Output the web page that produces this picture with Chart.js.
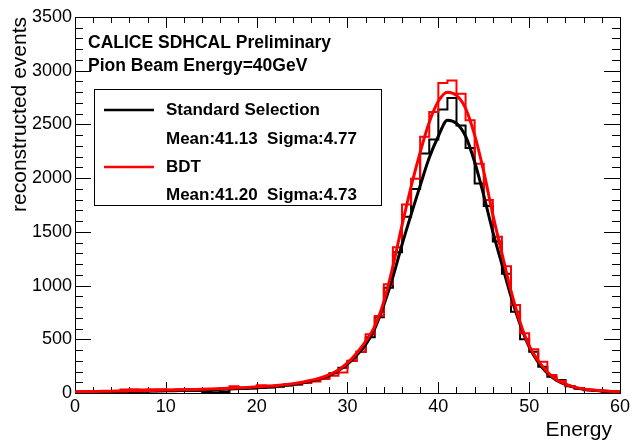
<!DOCTYPE html>
<html>
<head>
<meta charset="utf-8">
<script src="https://cdn.jsdelivr.net/npm/chart.js@4.4.0/dist/chart.umd.min.js"></script>
<style>
html,body{margin:0;padding:0;background:#fff;}
#wrap{width:633px;height:441px;position:relative;}
</style>
</head>
<body>
<div id="wrap"><canvas id="c" width="633" height="441"></canvas></div>
<script>
// ---- data ----
const binLowEdges = [0,1,2,3,4,5,6,7,8,9,10,11,12,13,14,15,16,17,18,19,20,21,22,23,24,25,26,27,28,29,30,31,32,33,34,35,36,37,38,39,40,41,42,43,44,45,46,47,48,49,50,51,52,53,54,55,56,57,58,59];
const binUpperEdge = 60;
const standardCounts = [8,10,9,11,12,14,15,13,16,18,19,20,22,21,10,8,10,45,38,42,48,52,58,70,78,95,112,140,185,235,300,385,520,705,980,1310,1640,1900,2230,2360,2640,2745,2490,2280,1950,1740,1410,1110,757,500,385,245,152,121,62,40,25,18,12,8];
const bdtCounts = [12,12,12,12,12,32,35,33,36,34,30,35,33,36,32,30,34,62,48,55,72,68,72,82,80,92,108,130,160,190,298,385,546,717,1012,1356,1755,1995,2386,2615,2885,2910,2785,2540,2135,1796,1455,1180,819,556,407,292,168,115,65,44,28,20,14,10];
const fitX = [0,1,2,3,4,5,6,7,8,9,10,11,12,13,14,15,16,17,18,19,20,21,22,23,24,25,26,27,28,29,30,31,32,33,34,35,36,37,38,39,40,41,42,43,44,45,46,47,48,49,50,51,52,53,54,55,56,57,58,59,60];
const standardFit = [8,9,10,11,12,13,14,15,17,18,20,22,24,26,28,31,34,37,41,45,49,54,60,69,80,94,112,135,165,210,270,350,450,600,820,1080,1380,1660,1930,2190,2390,2540,2510,2390,2150,1840,1500,1200,900,640,430,285,185,120,80,52,35,25,18,13,10];
const bdtFit = [12,13,14,16,17,19,20,22,23,25,27,29,31,33,35,38,41,44,48,52,57,62,68,76,86,100,118,140,172,215,280,370,480,620,850,1180,1560,1920,2240,2520,2715,2800,2770,2650,2400,2060,1660,1300,950,660,440,300,195,125,82,55,38,28,20,15,12];
const xRange = [0, 60];
const yRange = [0, 3500];
const xMajorStep = 10, xMinorStep = 2;
const yMajorStep = 500, yMinorStep = 100;
const headerLines = ["CALICE SDHCAL Preliminary", "Pion Beam Energy=40GeV"];
const legendLabels = ["Standard Selection", "BDT"];
const legendStats = ["Mean:41.13  Sigma:4.77", "Mean:41.20  Sigma:4.73"];
const seriesColors = ["#000000", "#ff0000"];
const xTitle = "Energy";
const yTitle = "reconstructed events";

// ---- build library data ----
function histPoints(counts){
  const pts = binLowEdges.map((x,i)=>({x:x, y:counts[i]}));
  pts.push({x:binUpperEdge, y:counts[counts.length-1]});
  return pts;
}
function curvePoints(vals){ return fitX.map((x,i)=>({x:x, y:vals[i]})); }

const FONT = "'Liberation Sans', Arial, Helvetica, sans-serif";

const framePlugin = {
  id: 'rootFrame',
  beforeDatasetsDraw(chart){
    const {ctx, chartArea:a, scales:{x, y}} = chart;
    ctx.save();
    ctx.strokeStyle = '#000';
    ctx.lineWidth = 1;
    ctx.beginPath();
    for (let v = xRange[0]; v <= xRange[1] + 1e-9; v += xMinorStep){
      const px = Math.round(x.getPixelForValue(v)) + 0.5;
      const len = (Math.abs(v % xMajorStep) < 1e-9) ? 11 : 6;
      ctx.moveTo(px, a.bottom); ctx.lineTo(px, a.bottom - len);
      ctx.moveTo(px, a.top); ctx.lineTo(px, a.top + len);
    }
    for (let v = yRange[0]; v <= yRange[1] + 1e-9; v += yMinorStep){
      const py = Math.round(y.getPixelForValue(v)) + 0.5;
      const len = (Math.abs(v % yMajorStep) < 1e-9) ? 16 : 8;
      ctx.moveTo(a.left, py); ctx.lineTo(a.left + len, py);
      ctx.moveTo(a.right, py); ctx.lineTo(a.right - len, py);
    }
    ctx.stroke();
    ctx.strokeRect(Math.round(a.left)+0.5, Math.round(a.top)+0.5, Math.round(a.right-a.left), Math.round(a.bottom-a.top));
    ctx.restore();
  },
  afterDraw(chart){
    const {ctx} = chart;
    ctx.save();
    ctx.fillStyle = '#000';
    ctx.textBaseline = 'alphabetic';
    ctx.textAlign = 'left';
    ctx.font = "bold 17.5px " + FONT;
    ctx.fillText(headerLines[0], 88, 48);
    ctx.fillText(headerLines[1], 88, 71);
    ctx.fillStyle = '#fff';
    ctx.fillRect(94.5, 89.5, 287, 116);
    ctx.strokeStyle = '#000';
    ctx.lineWidth = 1;
    ctx.strokeRect(94.5, 89.5, 287, 116);
    const rows = [[115,144],[172,200]];
    for (let i=0;i<2;i++){
      ctx.strokeStyle = seriesColors[i];
      ctx.lineWidth = 2.5;
      ctx.beginPath();
      const ly = rows[i][0] - 5;
      ctx.moveTo(104, ly); ctx.lineTo(154, ly);
      ctx.stroke();
      ctx.fillStyle = '#000';
      ctx.font = "bold 17px " + FONT;
      ctx.fillText(legendLabels[i], 166, rows[i][0]);
      ctx.fillText(legendStats[i], 166, rows[i][1]);
    }
    ctx.font = "21px " + FONT;
    ctx.textAlign = 'right';
    ctx.fillText(xTitle, 612, 436);
    ctx.restore();
  }
};

new Chart(document.getElementById('c'), {
  type: 'line',
  data: {
    datasets: [
      { label: 'BDT fit', data: curvePoints(bdtFit), borderColor: seriesColors[1], borderWidth: 3, pointRadius: 0, fill: false, cubicInterpolationMode: 'monotone' },
      { label: 'Standard fit', data: curvePoints(standardFit), borderColor: seriesColors[0], borderWidth: 3, pointRadius: 0, fill: false, cubicInterpolationMode: 'monotone' },
      { label: 'BDT', data: histPoints(bdtCounts), borderColor: seriesColors[1], borderWidth: 2, pointRadius: 0, fill: false, stepped: 'before' },
      { label: 'Standard Selection', data: histPoints(standardCounts), borderColor: seriesColors[0], borderWidth: 2, pointRadius: 0, fill: false, stepped: 'before' }
    ]
  },
  options: {
    responsive: false,
    animation: false,
    devicePixelRatio: 1,
    layout: { padding: { left: 0, top: 17, right: 13, bottom: 0 } },
    plugins: { legend: { display: false }, tooltip: { enabled: false } },
    scales: {
      x: {
        type: 'linear', min: xRange[0], max: xRange[1],
        grid: { display: false, drawTicks: false },
        border: { display: false },
        ticks: { stepSize: xMajorStep, color: '#000', font: { family: FONT, size: 18 }, padding: 3, maxRotation: 0, callback: v => String(v) },
        afterFit: s => { s.height = 48; }
      },
      y: {
        type: 'linear', min: yRange[0], max: yRange[1],
        grid: { display: false, drawTicks: false },
        border: { display: false },
        ticks: { stepSize: yMajorStep, color: '#000', font: { family: FONT, size: 18 }, padding: 3, callback: v => String(v) },
        title: { display: true, text: yTitle, align: 'end', color: '#000', font: { family: FONT, size: 21 }, padding: { top: 8, bottom: 0 } },
        afterFit: s => { s.width = 75; }
      }
    }
  },
  plugins: [framePlugin]
});
</script>
</body>
</html>
